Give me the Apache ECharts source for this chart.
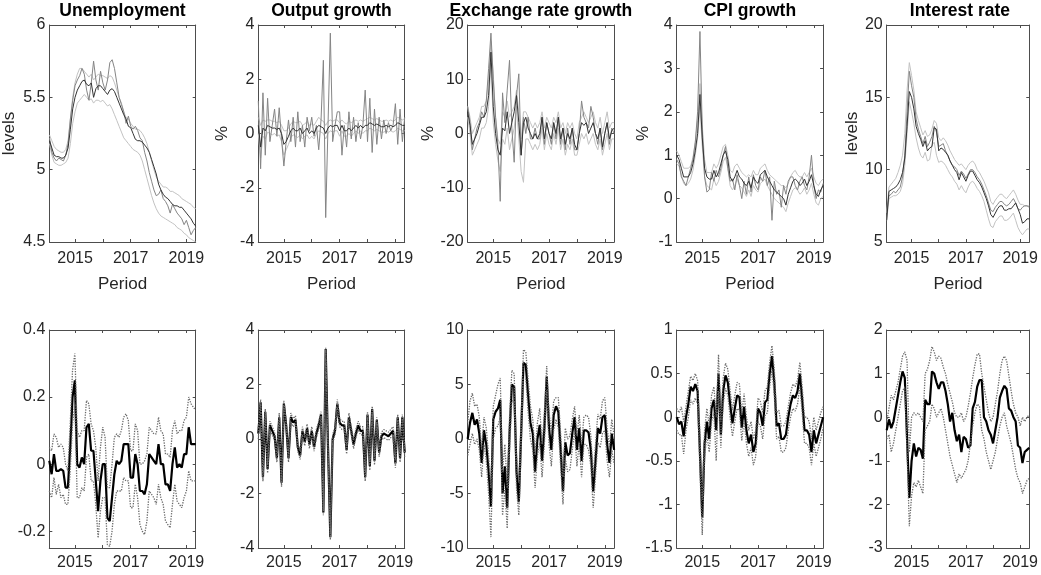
<!DOCTYPE html>
<html><head><meta charset="utf-8">
<script src="https://cdn.jsdelivr.net/npm/echarts@6/dist/echarts.min.js"></script>
<style>html,body{margin:0;padding:0;background:#fff}#c{width:1041px;height:575px}</style>
</head><body><div id="c"></div>
<script>
// ---- time index: monthly, Feb 2014 .. May 2019 ----
const START_YEAR = 2014, START_MONTH = 2, N_MONTHS = 64;
const periods = [];
for (let i = 0; i < N_MONTHS; i++) periods.push(START_YEAR + (START_MONTH - 1 + i) / 12);

const yearTicks = [2015, 2016, 2017, 2018, 2019];
const yearLabels = [2015, 2017, 2019];

const titles = ['Unemployment', 'Output growth', 'Exchange rate growth', 'CPI growth', 'Interest rate'];
const topYNames = ['levels', '%', '%', '%', 'levels'];

// y ranges and tick labels
const topYMin = [4.5, -4, -20, -1, 5];
const topYMax = [6, 4, 20, 4, 20];
const topYTicks = [[4.5, 5, 5.5, 6], [-4, -2, 0, 2, 4], [-20, -10, 0, 10, 20], [-1, 0, 1, 2, 3, 4], [5, 10, 15, 20]];
const botYMin = [-0.25, -4, -10, -1.5, -3];
const botYMax = [0.4, 4, 10, 1, 2];
const botYTicks = [[-0.2, 0, 0.2, 0.4], [-4, -2, 0, 2, 4], [-10, -5, 0, 5, 10], [-1.5, -1, -0.5, 0, 0.5, 1], [-3, -2, -1, 0, 1, 2]];

// ---- TOP ROW: Unemployment ----
const unempMedian = [5.20,5.15,5.10,5.09,5.09,5.08,5.08,5.10,5.15,5.28,5.42,
 5.50,5.55,5.58,5.61,5.62,5.59,5.58,5.60,5.50,5.56,5.58,5.58,
 5.56,5.54,5.52,5.55,5.56,5.54,5.50,5.46,5.42,5.38,5.35,5.30,
 5.29,5.25,5.21,5.20,5.20,5.19,5.17,5.15,5.12,5.07,5.02,4.97,
 4.90,4.86,4.83,4.81,4.80,4.78,4.76,4.75,4.75,4.74,4.74,4.72,
 4.70,4.68,4.66,4.63,4.61];
const unempData = [5.22,5.12,5.08,5.06,5.08,5.07,5.06,5.10,5.18,5.35,5.48,
 5.58,5.62,5.65,5.70,5.66,5.55,5.48,5.60,5.75,5.62,5.55,5.68,
 5.60,5.55,5.62,5.74,5.76,5.70,5.60,5.50,5.45,5.40,5.32,5.37,
 5.30,5.28,5.30,5.27,5.22,5.20,5.12,5.06,4.98,4.92,4.86,4.82,
 4.83,4.86,4.80,4.78,4.75,4.70,4.76,4.73,4.70,4.68,4.66,4.62,
 4.65,4.60,4.55,4.58,4.60];
const unempUpper = [5.24,5.20,5.16,5.14,5.13,5.12,5.12,5.14,5.20,5.35,5.50,
 5.60,5.66,5.70,5.70,5.68,5.66,5.64,5.66,5.62,5.64,5.66,5.65,
 5.65,5.64,5.63,5.65,5.64,5.60,5.55,5.50,5.46,5.40,5.36,5.35,
 5.32,5.30,5.28,5.28,5.27,5.25,5.22,5.18,5.12,5.06,5.00,4.95,
 4.92,4.90,4.88,4.88,4.87,4.85,4.85,4.84,4.83,4.82,4.80,4.79,
 4.78,4.77,4.76,4.74,4.73];
const unempLower = [5.18,5.10,5.05,5.04,5.03,5.03,5.04,5.05,5.08,5.18,5.32,
 5.40,5.46,5.48,5.50,5.52,5.50,5.48,5.49,5.46,5.48,5.48,5.47,
 5.48,5.46,5.44,5.45,5.42,5.38,5.34,5.30,5.26,5.22,5.20,5.18,
 5.16,5.14,5.13,5.12,5.10,5.06,5.00,4.94,4.88,4.82,4.77,4.73,
 4.70,4.68,4.67,4.66,4.65,4.64,4.63,4.62,4.60,4.59,4.58,4.56,
 4.55,4.53,4.52,4.51,4.50];

// ---- TOP ROW: Output growth ----
const outMedian = [0.3,-0.5,0.2,0.1,0.3,0.25,0.2,0.2,0.15,0.2,0.0,
 -0.4,-0.3,-0.1,0.1,0.2,0.1,0.1,0.2,0.0,0.1,0.2,0.0,
 0.1,0.0,0.2,0.3,0.25,0.2,0.0,0.2,0.3,0.25,0.3,0.3,
 0.1,0.3,0.1,0.1,0.2,0.1,0.2,0.3,0.2,0.3,0.2,0.3,
 0.3,0.4,0.35,0.3,0.35,0.3,0.25,0.25,0.3,0.25,0.3,0.25,
 0.3,0.4,0.35,0.3,0.3];
const outData = [1.2,-1.3,1.5,-0.8,1.3,-0.3,0.3,0.9,-0.1,0.95,-0.2,
 -1.2,-0.3,0.5,-0.3,0.6,-0.5,0.8,-0.3,0.3,-0.5,0.6,0.1,
 0.6,-0.1,0.3,-0.6,0.5,2.7,-3.1,0.3,3.7,-0.3,0.3,0.8,
 0.8,-0.8,0.3,-0.5,0.8,-0.2,0.6,-0.3,0.4,-0.2,0.3,1.6,
 -0.3,1.3,-0.7,0.9,-0.4,0.6,-0.2,0.5,0.0,0.4,0.1,0.3,
 1.1,-0.4,0.9,-0.3,0.6];
const outUpper = [0.6,0.3,0.5,0.45,0.5,0.5,0.45,0.45,0.4,0.45,0.3,
 0.1,0.1,0.2,0.35,0.45,0.4,0.4,0.45,0.3,0.35,0.45,0.3,
 0.35,0.3,0.45,0.6,0.5,0.45,0.3,0.45,0.5,0.45,0.5,0.5,
 0.4,0.5,0.4,0.35,0.45,0.4,0.45,0.5,0.45,0.5,0.45,0.5,
 0.55,0.6,0.55,0.5,0.55,0.5,0.45,0.45,0.5,0.45,0.5,0.45,
 0.5,0.6,0.55,0.5,0.55];
const outLower = [0.0,-0.9,-0.1,-0.2,0.05,0.0,-0.05,0.0,-0.1,-0.05,-0.3,
 -0.8,-0.6,-0.4,-0.15,-0.05,-0.1,-0.15,-0.05,-0.2,-0.1,-0.05,-0.2,
 -0.1,-0.2,0.0,0.1,0.05,0.0,-0.2,0.0,0.1,0.05,0.1,0.1,
 -0.1,0.1,-0.1,-0.1,0.0,-0.1,0.0,0.1,0.0,0.1,0.0,0.1,
 0.1,0.2,0.15,0.1,0.15,0.1,0.05,0.05,0.1,0.05,0.1,0.05,
 0.1,0.2,0.15,0.1,0.1];

// ---- TOP ROW: Exchange rate growth ----
const exMedian = [4,1.5,-2,-1,0,1.5,3,3,4,7,15,
 5,0,-3,-4,1,0.5,4,0,2,4,7,2,
 -4,2,3,1,0,-1,0,-1,0,3,-1,2,
 0,-1,2,0,3,-1,1,-2,0,-1,1,-2,
 -3,0,2,1.5,2,0,1,2,0,-1,1,-2.5,
 0,2,-1,0.5,1];
const exData = [5,2,-3,-1,1,2,4,3,6,12,18.5,
 10,3,-2,-12.5,7.5,2,8,13.5,1,-5.3,7,11,
 -4,3,0,3,-1,-1,1,-1,-1,3,-2,2,
 0,-2,2,-1,3,-2,1,-3,1,-2,1,-3,
 -3,0,6,3,2,1,5,3,0,-2,1,-3,
 0,2,-2,1,0];
const exUpper = [5,3,0,1,2,3,5,5,6,10,17,
 11,3,-1,-2,4,3,6,3,4,5,8,4,
 -1,4,4,3,2,1,2,1,2,4,1,3,
 2,1,3,2,4,1,2,0,2,1,2,0,
 -1,2,3,4,3,2,3,4,2,1,3,0,
 2,4,1,2,2];
const exLower = [3,0,-4,-3,-2,-1,1,1,2,5,13,
 2,-2,-5,-7,-1,-2,1,-3,-1,1,5,-1,
 -7,-9,-1,-1,-2,-3,-2,-3,-2,1,-3,0,
 -2,-3,0,-2,1,-3,-1,-4,-2,-3,-1,-4,
 -4,-2,0,-1,0,-2,-1,0,-2,-3,-1,-4,
 -2,0,-3,-1,-1];

// ---- TOP ROW: CPI growth ----
const cpiMedian = [1.0,0.9,0.7,0.5,0.5,0.5,0.6,0.8,1.1,1.5,2.4,
 1.4,0.7,0.5,0.45,0.45,0.65,0.5,0.6,0.8,1.0,1.1,0.9,
 0.5,0.4,0.5,0.65,0.5,0.45,0.35,0.3,0.4,0.25,0.5,0.4,
 0.35,0.55,0.6,0.65,0.5,0.4,0.3,0.2,0.15,0.1,0.05,0.0,
 -0.15,0.1,0.25,0.4,0.45,0.4,0.3,0.35,0.45,0.3,0.4,0.55,
 0.3,0.1,0.05,0.2,0.3];
const cpiData = [0.9,0.8,0.5,0.4,0.3,0.5,0.7,0.9,1.3,2.0,3.85,
 1.6,0.5,0.15,0.2,0.6,0.4,0.65,0.5,0.7,1.0,1.2,0.7,
 0.4,0.45,0.2,0.55,0.3,0.0,0.4,0.1,0.5,0.15,0.55,0.3,
 0.2,0.5,0.4,0.65,0.3,0.5,-0.5,0.4,0.1,0.2,-0.2,0.3,
 0.1,0.4,0.5,0.5,0.3,0.2,0.4,0.5,0.3,0.2,0.5,1.0,
 0.3,0.0,0.2,0.15,0.35];
const cpiUpper = [1.1,1.0,0.85,0.7,0.7,0.7,0.75,0.95,1.3,1.8,2.65,
 1.7,0.9,0.6,0.6,0.6,0.8,0.7,0.8,1.0,1.2,1.25,1.0,
 0.65,0.6,0.75,0.8,0.7,0.6,0.55,0.5,0.55,0.5,0.65,0.55,
 0.55,0.7,0.75,0.8,0.65,0.55,0.5,0.45,0.4,0.35,0.3,0.3,
 0.25,0.35,0.5,0.6,0.65,0.55,0.5,0.5,0.6,0.5,0.6,0.7,
 0.5,0.35,0.3,0.4,0.45];
const cpiLower = [0.8,0.75,0.55,0.35,0.3,0.35,0.45,0.65,1.0,1.4,2.1,
 1.2,0.5,0.3,0.25,0.2,0.45,0.3,0.4,0.6,0.85,0.95,0.7,
 0.3,0.2,0.3,0.45,0.3,0.25,0.15,0.05,0.2,0.05,0.3,0.2,
 0.15,0.35,0.4,0.45,0.3,0.2,0.1,0.0,-0.05,-0.1,-0.15,-0.2,
 -0.3,-0.1,0.05,0.2,0.25,0.2,0.1,0.15,0.25,0.1,0.2,0.35,
 0.1,-0.1,-0.15,0.0,0.05];

// ---- TOP ROW: Interest rate ----
const irMedian = [6.5,8.5,8.6,8.7,8.8,9.0,9.3,9.8,10.8,13.0,15.4,
 15.0,14.2,13.0,12.5,12.1,11.6,12.0,11.3,11.5,11.6,12.9,12.8,
 11.3,11.5,11.4,11.2,11.0,10.6,10.3,10.0,9.8,9.3,9.8,9.5,
 9.2,9.6,9.9,9.9,9.6,9.3,9.1,8.8,8.4,8.0,7.5,6.9,
 6.7,7.0,7.3,7.5,7.5,7.2,7.2,7.3,7.3,7.5,7.7,7.3,
 6.9,6.3,6.4,6.6,6.6];
const irData = [7.0,8.2,8.3,8.5,8.4,8.6,8.8,9.5,11.0,14.0,16.8,
 15.8,15.0,13.5,12.8,12.3,11.8,12.3,11.6,11.9,12.3,13.0,12.6,
 11.6,11.7,11.8,11.3,11.0,10.6,10.3,10.2,10.0,9.6,9.9,9.7,
 9.4,9.7,10.0,10.0,9.8,9.5,9.3,9.0,8.6,8.2,7.7,7.2,
 7.1,7.4,7.6,7.8,7.8,7.6,7.5,7.6,7.8,8.0,7.7,7.3,
 7.2,7.4,7.5,7.5,7.4];
const irUpper = [7.0,8.8,9.0,9.2,9.4,9.8,10.3,11.0,12.5,15.5,17.4,
 16.5,15.5,14.0,13.4,12.9,12.4,12.7,12.3,12.4,12.8,13.4,13.2,
 12.2,12.0,12.2,12.0,11.7,11.3,11.0,10.7,10.5,10.3,10.4,10.2,
 10.0,10.3,10.5,10.6,10.4,10.0,9.8,9.5,9.2,8.8,8.4,7.8,
 7.6,7.9,8.1,8.3,8.3,8.1,8.0,8.2,8.4,8.6,8.3,7.9,
 7.6,7.6,7.5,7.5,7.5];
const irLower = [6.5,8.0,8.1,8.2,8.2,8.3,8.5,9.0,10.3,12.5,14.7,
 14.0,13.2,12.2,11.5,11.0,10.8,11.2,10.6,10.7,11.7,11.9,11.0,
 10.5,10.6,10.5,10.3,10.0,9.7,9.5,9.2,9.0,8.6,8.9,8.6,
 8.4,8.8,9.1,9.2,9.0,8.7,8.5,8.2,7.8,7.2,6.6,6.1,
 6.0,6.4,6.6,6.8,6.8,6.5,6.5,6.6,6.8,7.0,6.5,6.0,
 5.7,5.5,5.7,5.9,5.9];

// ---- BOTTOM ROW ----
const uShock = [0.01,-0.03,0.03,-0.02,-0.02,-0.015,-0.02,-0.07,-0.07,0.05,0.2,
 0.25,0.0,-0.01,0.02,0.0,0.11,0.12,0.04,0.04,-0.05,-0.14,-0.05,
 0.0,0.0,-0.16,-0.17,-0.1,-0.03,0.01,0.0,0.01,0.06,0.06,0.06,
 -0.04,-0.04,0.03,0.0,-0.08,-0.08,-0.09,-0.06,0.03,0.02,0.01,0.0,
 0.06,0.0,0.0,-0.06,-0.06,-0.08,0.0,0.05,-0.01,0.0,-0.01,0.03,
 0.03,0.11,0.06,0.06,0.06];
const uShockHi = [0.05,0.04,0.09,0.08,0.05,0.06,0.05,0.0,-0.02,0.12,0.28,
 0.33,0.1,0.08,0.1,0.1,0.19,0.18,0.12,0.1,0.05,-0.05,0.05,
 0.11,0.08,-0.07,-0.07,0.0,0.08,0.09,0.08,0.1,0.14,0.15,0.13,
 0.04,0.04,0.12,0.1,0.0,0.0,0.01,0.03,0.11,0.1,0.09,0.09,
 0.14,0.1,0.09,0.03,0.03,0.02,0.1,0.13,0.09,0.1,0.1,0.13,
 0.14,0.2,0.18,0.17,0.16];
const uShockLo = [-0.08,-0.1,-0.04,-0.09,-0.06,-0.1,-0.09,-0.12,-0.12,-0.02,0.12,
 0.18,-0.1,-0.1,-0.07,-0.08,0.02,0.03,-0.05,-0.05,-0.12,-0.22,-0.14,
 -0.1,-0.1,-0.24,-0.245,-0.2,-0.12,-0.08,-0.08,-0.08,-0.04,-0.05,-0.05,
 -0.13,-0.13,-0.06,-0.1,-0.18,-0.2,-0.21,-0.17,-0.08,-0.09,-0.1,-0.12,
 -0.06,-0.1,-0.12,-0.17,-0.18,-0.19,-0.12,-0.06,-0.11,-0.12,-0.13,-0.1,
 -0.08,-0.02,-0.05,-0.05,-0.05];

const oShock = [0.2,1.35,-1.4,1.0,-1.1,0.5,0.3,0.1,-0.7,0.8,-1.6,
 1.3,0.5,-0.7,0.8,0.6,0.7,-0.3,-0.6,0.3,-0.1,0.4,-0.2,
 0.3,-0.3,0.2,0.5,0.9,-2.7,3.3,-0.3,-3.6,0.0,0.3,1.3,
 0.6,0.5,0.5,-0.4,0.8,0.3,-0.2,0.2,0.5,0.3,0.3,-1.4,
 0.9,-1.0,1.1,-0.8,0.7,-0.5,0.1,0.2,0.15,0.1,0.2,0.3,
 -0.9,0.8,-0.7,0.8,-0.5];
const oShockHi = [0.4,1.45,-1.25,1.1,-0.95,0.65,0.45,0.25,-0.55,0.95,-1.45,
 1.4,0.65,-0.55,0.95,0.75,0.85,-0.15,-0.45,0.45,0.05,0.55,-0.05,
 0.45,-0.15,0.35,0.65,1.0,-2.6,3.35,-0.15,-3.5,0.15,0.45,1.45,
 0.75,0.65,0.65,-0.25,0.95,0.45,-0.05,0.35,0.65,0.45,0.45,-1.25,
 1.0,-0.85,1.2,-0.65,0.8,-0.35,0.25,0.35,0.3,0.25,0.35,0.45,
 -0.75,0.9,-0.55,0.9,-0.35];
const oShockLo = [0.0,1.25,-1.55,0.9,-1.25,0.35,0.15,-0.05,-0.85,0.65,-1.75,
 1.2,0.35,-0.85,0.65,0.45,0.55,-0.45,-0.75,0.15,-0.25,0.25,-0.35,
 0.15,-0.45,0.05,0.35,0.8,-2.8,3.25,-0.45,-3.7,-0.15,0.15,1.15,
 0.45,0.35,0.35,-0.55,0.65,0.15,-0.35,0.05,0.35,0.15,0.15,-1.55,
 0.8,-1.15,1.0,-0.95,0.6,-0.65,-0.05,0.05,0.0,-0.05,0.05,0.15,
 -1.05,0.7,-0.85,0.7,-0.65];

const eShock = [0.0,1.5,2.4,1.3,1.8,0.5,-2.2,0.8,-0.5,-3.0,-6.2,
 1.8,2.5,2.8,3.6,-5.0,-2.5,-6.3,0.5,5.0,4.8,-3.0,-5.8,
 0.5,7.0,6.8,4.0,1.5,0.5,-3.0,0.0,1.3,-2.0,1.0,5.7,
 1.0,-1.0,2.2,3.0,2.5,-1.0,-4.8,-0.3,-1.5,-1.3,0.5,2.0,
 -1.0,1.0,-2.0,0.8,0.8,0.6,-1.0,-4.8,-2.0,1.0,0.5,2.0,
 2.2,-0.5,-2.2,0.5,-1.0];
const eShockHi = [1.5,3.5,4.2,3.0,3.2,2.0,-1.0,2.0,1.0,-1.5,-4.5,
 3.0,4.0,5.0,5.6,-3.0,-0.5,-4.5,2.0,6.3,6.0,-1.5,-4.0,
 2.0,8.2,8.0,5.5,3.0,1.8,-1.5,1.5,2.8,-0.5,2.5,6.7,
 2.5,0.5,3.5,3.8,3.8,0.5,-3.5,1.0,0.0,0.3,1.8,3.0,
 0.3,2.2,-0.5,2.0,2.2,2.0,0.3,-3.5,-0.5,2.3,1.8,3.5,
 3.8,1.0,-0.8,1.8,0.3];
const eShockLo = [-1.5,-0.5,0.5,-0.5,0.0,-1.0,-3.5,-0.5,-2.0,-5.0,-9.0,
 0.0,1.0,1.2,2.0,-7.0,-4.5,-8.2,-1.0,3.5,3.5,-4.5,-7.0,
 -1.0,5.5,5.5,2.5,0.0,-1.0,-4.5,-1.5,-0.3,-3.5,-0.5,4.5,
 -0.5,-2.5,0.8,1.8,1.0,-2.5,-6.0,-1.8,-3.0,-2.8,-1.0,0.8,
 -2.5,-0.3,-3.5,-0.5,-0.5,-1.0,-2.5,-6.3,-3.5,-0.3,-0.8,0.5,
 0.8,-2.0,-3.5,-1.0,-2.3];

const pShock = [0.0,-0.08,-0.05,-0.22,0.0,0.15,0.35,0.3,0.38,0.3,-0.4,
 -1.15,-0.3,-0.05,-0.25,0.1,0.2,-0.15,0.5,-0.2,0.3,0.48,0.4,
 0.15,-0.07,0.1,0.25,0.23,-0.12,0.12,-0.15,-0.3,-0.2,-0.4,-0.3,
 0.1,0.05,-0.1,0.17,0.2,0.5,0.7,0.4,-0.1,-0.07,-0.25,-0.25,
 -0.2,0.0,0.15,0.25,0.22,0.3,0.5,0.2,-0.15,-0.15,-0.2,-0.4,
 -0.15,-0.3,-0.2,-0.1,0.0];
const pShockHi = [0.1,0.05,0.12,-0.05,0.12,0.3,0.47,0.42,0.5,0.42,-0.2,
 -0.95,-0.15,0.1,-0.1,0.25,0.35,0.0,0.72,-0.05,0.45,0.62,0.55,
 0.3,0.08,0.25,0.4,0.38,0.03,0.27,0.0,-0.15,-0.05,-0.25,-0.15,
 0.22,0.18,0.05,0.3,0.35,0.63,0.82,0.55,0.05,0.08,-0.1,-0.1,
 -0.05,0.12,0.28,0.38,0.35,0.43,0.63,0.35,0.0,0.0,-0.05,-0.25,
 0.0,-0.15,-0.05,0.05,0.12];
const pShockLo = [-0.15,-0.2,-0.2,-0.42,-0.15,0.0,0.2,0.15,0.22,0.15,-0.6,
 -1.35,-0.45,-0.2,-0.4,-0.05,0.05,-0.5,0.3,-0.35,0.15,0.33,0.25,
 0.0,-0.22,-0.05,0.1,0.08,-0.27,-0.03,-0.3,-0.45,-0.35,-0.55,-0.45,
 -0.05,-0.1,-0.25,0.02,0.05,0.35,0.55,0.25,-0.25,-0.22,-0.4,-0.4,
 -0.35,-0.15,0.0,0.1,0.07,0.15,0.35,0.05,-0.3,-0.3,-0.35,-0.55,
 -0.3,-0.45,-0.35,-0.25,-0.12];

const iShock = [-0.3,-0.05,-0.25,-0.1,0.2,0.5,0.8,1.05,0.9,-0.5,-1.85,
 -1.0,-0.6,-0.9,-0.7,-0.75,-0.95,0.4,0.3,0.3,1.05,1.0,0.8,
 0.65,0.8,0.8,0.6,0.3,-0.1,0.1,-0.3,-0.55,-0.4,-0.8,-0.45,
 -0.5,-0.7,-0.65,0.2,0.35,0.7,0.85,0.85,0.0,-0.1,-0.3,-0.4,
 -0.6,-0.3,0.0,0.45,0.6,0.72,0.65,0.2,0.15,0.0,-0.1,-0.65,
 -0.7,-1.05,-0.8,-0.75,-0.7];
const iShockHi = [-0.1,0.2,0.5,0.4,0.6,0.8,1.1,1.4,1.5,1.3,-0.8,
 0.0,0.1,0.05,0.1,0.0,-0.1,1.0,1.1,1.3,1.62,1.5,1.3,
 1.4,1.35,1.15,1.0,0.75,0.55,0.35,0.1,0.0,0.0,0.1,-0.1,
 0.0,0.25,0.55,0.9,1.2,1.45,1.45,1.0,0.7,0.4,0.1,-0.1,
 0.0,0.3,0.6,1.0,1.3,1.4,1.3,0.95,0.6,0.3,0.1,0.0,
 -0.2,0.0,-0.1,0.0,0.05];
const iShockLo = [-0.5,-0.4,-0.8,-0.6,-0.3,0.0,0.3,0.6,0.7,-0.8,-2.5,
 -1.8,-1.5,-1.6,-1.45,-1.6,-1.75,-0.3,-0.2,-0.1,0.3,0.2,0.0,
 0.1,0.2,0.0,-0.3,-0.6,-0.9,-1.1,-1.3,-1.5,-1.3,-1.4,-1.3,
 -1.2,-1.0,-0.6,-0.2,0.1,0.3,0.25,-0.3,-0.5,-0.8,-1.0,-1.2,
 -1.0,-0.8,-0.5,-0.2,0.0,0.1,-0.2,-0.4,-0.6,-0.9,-1.2,-1.4,
 -1.5,-1.75,-1.6,-1.45,-1.4];

// ---- layout & style ----
const AX = '#4d4d4d', TXT = '#262626';
const FONT = '"Liberation Sans", Arial, Helvetica, sans-serif';
const gridLefts = [49.3, 258.3, 467.7, 676.7, 886.7];
const gridW = 146.4;
const topRow = { top: 25, height: 217 };
const botRow = { top: 330, height: 218 };
const yNameGaps = [31.5, 27, 31, 25, 25.5];

const topSets = [
  [unempLower, unempUpper, unempData, unempMedian],
  [outLower, outUpper, outData, outMedian],
  [exLower, exUpper, exData, exMedian],
  [cpiLower, cpiUpper, cpiData, cpiMedian],
  [irLower, irUpper, irData, irMedian]
];
const botSets = [
  [uShock, uShockHi, uShockLo],
  [oShock, oShockHi, oShockLo],
  [eShock, eShockHi, eShockLo],
  [pShock, pShockHi, pShockLo],
  [iShock, iShockHi, iShockLo]
];

const grids = [], xAxes = [], yAxes = [], series = [], graphics = [];

function addPanel(g, left, row, yMin, yMax, yTicks, xName, yName, yGap, xMargin) {
  grids.push({ left: left, top: row.top, width: gridW, height: row.height, containLabel: false });
  const xmin = periods[0], xmax = periods[periods.length - 1];
  const common = { type: 'value', gridIndex: g, min: xmin, max: xmax, splitLine: { show: false },
    axisLine: { show: true, onZero: false, lineStyle: { color: AX, width: 1 } } };
  xAxes.push(Object.assign({}, common, {
    position: 'bottom',
    axisTick: { show: true, inside: true, length: 3, customValues: yearTicks, lineStyle: { color: AX } },
    axisLabel: { show: true, customValues: yearLabels, margin: xMargin, fontSize: 16, color: TXT, fontFamily: FONT,
      formatter: v => String(Math.round(v)) },
    name: xName, nameLocation: 'middle', nameGap: 34,
    nameTextStyle: { fontSize: 17, color: TXT, fontFamily: FONT }
  }));
  xAxes.push(Object.assign({}, common, {
    position: 'top',
    axisTick: { show: true, inside: true, length: 3, customValues: yearTicks, lineStyle: { color: AX } },
    axisLabel: { show: false }
  }));
  const yc = { type: 'value', gridIndex: g, min: yMin, max: yMax, splitLine: { show: false },
    axisLine: { show: true, onZero: false, lineStyle: { color: AX, width: 1 } } };
  yAxes.push(Object.assign({}, yc, {
    position: 'left',
    axisTick: { show: true, inside: true, length: 3, customValues: yTicks, lineStyle: { color: AX } },
    axisLabel: { show: true, customValues: yTicks, margin: 4, fontSize: 16, color: TXT, fontFamily: FONT },
    name: yName, nameLocation: 'middle', nameGap: yGap,
    nameTextStyle: { fontSize: 17, color: TXT, fontFamily: FONT }
  }));
  yAxes.push(Object.assign({}, yc, {
    position: 'right',
    axisTick: { show: true, inside: true, length: 3, customValues: yTicks, lineStyle: { color: AX } },
    axisLabel: { show: false }
  }));
}

function pts(arr) { return periods.map((x, i) => [x, arr[i]]); }
function addLine(g, arr, color, width, type, z) {
  series.push({ type: 'line', xAxisIndex: 2 * g, yAxisIndex: 2 * g, data: pts(arr),
    symbol: 'none', showSymbol: false, silent: true, z: z, animation: false,
    lineStyle: { color: color, width: width, type: type } });
}

for (let p = 0; p < 5; p++) {
  addPanel(p, gridLefts[p], topRow, topYMin[p], topYMax[p], topYTicks[p], 'Period', topYNames[p], yNameGaps[p], 9);
  const ts = topSets[p];
  addLine(p, ts[0], '#c2c2c2', 1, 'solid', 2);
  addLine(p, ts[1], '#c2c2c2', 1, 'solid', 2);
  addLine(p, ts[2], '#858585', 1, 'solid', 3);
  addLine(p, ts[3], '#333333', 1, 'solid', 4);
  graphics.push({ type: 'text', x: gridLefts[p] + gridW / 2, y: 11,
    style: { text: titles[p], fontSize: 17.5, fontWeight: 'bold', fontFamily: FONT, fill: '#000',
      align: 'center', verticalAlign: 'middle' } });
}
for (let p = 0; p < 5; p++) {
  const g = 5 + p;
  addPanel(g, gridLefts[p], botRow, botYMin[p], botYMax[p], botYTicks[p], '', '', 0, 7);
  const bs = botSets[p];
  addLine(g, bs[0], '#000000', 2.2, 'solid', 3);
  addLine(g, bs[1], '#6a6a6a', 1.3, [1.3, 1.3], 4);
  addLine(g, bs[2], '#6a6a6a', 1.3, [1.3, 1.3], 4);
}

const chart = echarts.init(document.getElementById('c'), null, { renderer: 'canvas' });
chart.setOption({
  animation: false,
  backgroundColor: '#ffffff',
  grid: grids, xAxis: xAxes, yAxis: yAxes, series: series, graphic: graphics
});
</script>
</body></html>
